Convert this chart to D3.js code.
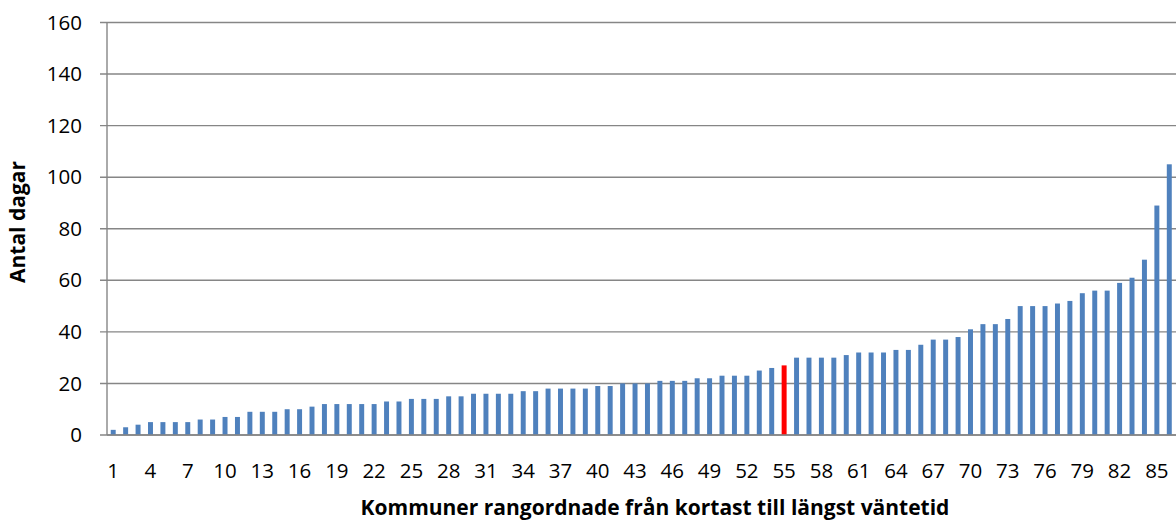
<!DOCTYPE html>
<html>
<head>
<meta charset="utf-8">
<script src="https://cdn.jsdelivr.net/npm/d3@7"></script>
<style>
  body { margin: 0; background: #fff; }
  svg { display: block; }
  text { font-family: "Open Sans", Lato, sans-serif; fill: #000; }
</style>
</head>
<body>
<div id="container"></div>
<script>
/* CONSTANTS AND GLOBALS */
const width = 1176,
  height = 522,
  margin = { top: 22.5, bottom: 87, left: 107, right: 0.5 };

/* DATA */
// ranking 1..86, days waited, municipality 55 highlighted in red
const ranks = d3.range(1, 87);
const days = [
  2, 3, 4, 5, 5, 5, 5, 6, 6, 7,
  7, 9, 9, 9, 10, 10, 11, 12, 12, 12,
  12, 12, 13, 13, 14, 14, 14, 15, 15, 16,
  16, 16, 16, 17, 17, 18, 18, 18, 18, 19,
  19, 20, 20, 20, 21, 21, 21, 22, 22, 23,
  23, 23, 25, 26, 27, 30, 30, 30, 30, 31,
  32, 32, 32, 33, 33, 35, 37, 37, 38, 41,
  43, 43, 45, 50, 50, 50, 51, 52, 55, 56,
  56, 59, 61, 68, 89, 105
];
const highlighted = [55];
const yTicks = [0, 20, 40, 60, 80, 100, 120, 140, 160];
const xTickLabels = ranks.filter(d => (d - 1) % 3 === 0);
const yTitle = "Antal dagar";
const xTitle = "Kommuner rangordnade från kortast till längst väntetid";

const data = ranks.map((r, i) => ({ rank: r, value: days[i] }));

/* SCALES */
const xScale = d3.scaleBand()
  .domain(ranks)
  .range([margin.left, width - margin.right])
  .paddingInner(0.6)
  .paddingOuter(0.3);

const yScale = d3.scaleLinear()
  .domain([0, 160])
  .range([height - margin.bottom, margin.top]);

/* HTML ELEMENTS */
const svg = d3.select("#container")
  .append("svg")
  .attr("width", width)
  .attr("height", height);

// gridlines + y ticks
svg.append("g")
  .selectAll("line")
  .data(yTicks)
  .join("line")
  .attr("x1", margin.left - 7)
  .attr("x2", width)
  .attr("y1", d => yScale(d))
  .attr("y2", d => yScale(d))
  .attr("stroke", "#868686")
  .attr("stroke-width", 1.4);

// y axis line
svg.append("line")
  .attr("x1", margin.left)
  .attr("x2", margin.left)
  .attr("y1", yScale(160))
  .attr("y2", yScale(0))
  .attr("stroke", "#868686")
  .attr("stroke-width", 1.4);

// y tick labels
svg.append("g")
  .selectAll("text")
  .data(yTicks)
  .join("text")
  .attr("x", margin.left - 25)
  .attr("y", d => yScale(d))
  .attr("dy", "0.35em")
  .attr("text-anchor", "end")
  .style("font-size", "20.5px")
  .text(d => d);

// bars
svg.append("g")
  .selectAll("rect")
  .data(data)
  .join("rect")
  .attr("x", d => xScale(d.rank))
  .attr("width", xScale.bandwidth())
  .attr("y", d => yScale(d.value))
  .attr("height", d => yScale(0) - yScale(d.value))
  .attr("fill", d => highlighted.includes(d.rank) ? "#ff0000" : "#4f81bd");

// redraw baseline over bars
svg.append("line")
  .attr("x1", margin.left)
  .attr("x2", width)
  .attr("y1", yScale(0))
  .attr("y2", yScale(0))
  .attr("stroke", "#868686")
  .attr("stroke-width", 1.4);

// x tick labels
svg.append("g")
  .selectAll("text")
  .data(xTickLabels)
  .join("text")
  .attr("x", d => xScale(d) + xScale.bandwidth() / 2)
  .attr("y", 471)
  .attr("dy", "0.35em")
  .attr("text-anchor", "middle")
  .style("font-size", "20.5px")
  .text(d => d);

// axis titles
svg.append("text")
  .attr("x", 655)
  .attr("y", 508)
  .attr("dy", "0.35em")
  .attr("text-anchor", "middle")
  .style("font-size", "21px")
  .style("font-weight", "bold")
  .text(xTitle);

svg.append("text")
  .attr("transform", `translate(18,222) rotate(-90)`)
  .attr("dy", "0.35em")
  .attr("text-anchor", "middle")
  .style("font-size", "21px")
  .style("font-weight", "bold")
  .text(yTitle);
</script>
</body>
</html>
